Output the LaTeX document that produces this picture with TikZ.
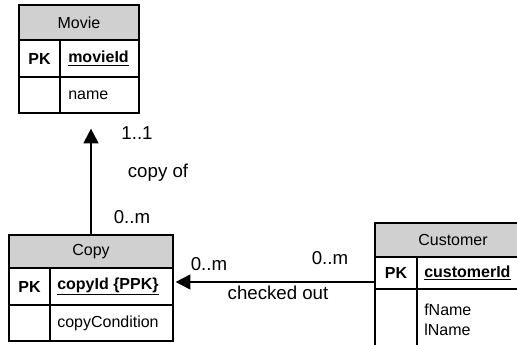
\documentclass[tikz,border=0pt]{standalone}
\usepackage{fontspec}
\setmainfont{Liberation Sans}
\usepackage{tikz}
\usetikzlibrary{arrows.meta, fit}
\definecolor{hdrgray}{HTML}{D0D0D0}
\tikzstyle{entbox} = [draw, line width=0.9pt, inner sep=0pt]
\tikzstyle{enthead} = [draw, line width=0.9pt, inner sep=0pt, fill=hdrgray]
\tikzstyle{headtext} = [font=\fontsize{12}{14}\selectfont, inner sep=0pt]
\tikzstyle{pk} = [font=\fontsize{12}{14}\selectfont\bfseries, inner sep=0pt]
\tikzstyle{keyattr} = [anchor=west, font=\fontsize{12}{14}\selectfont\bfseries, inner sep=0pt]
\tikzstyle{attr} = [anchor=west, align=left, font=\fontsize{12}{15}\selectfont, inner sep=0pt]
\tikzstyle{sep} = [draw, line width=0.9pt]
\tikzstyle{rel} = [draw, line width=1.5pt, -{Triangle[length=11pt, width=11pt]}]
\tikzstyle{mult} = [font=\fontsize{14}{16}\selectfont, inner sep=0pt]

\begin{document}
\begin{tikzpicture}[x=0.75pt, y=-0.75pt]
\clip (0,0) rectangle (517,345);
\fill[white] (0,0) rectangle (517,345);

%% movie
\node[entbox, fit={(19,5) (139,113)}] (movie) {};
\node[enthead, fit={(19,5) (139,40)}] (moviehead) {};
\node[headtext] at (moviehead.center) (movietitle) {Movie};
\draw[sep] (19,77) -- (139,77);
\draw[sep] (60,40) -- (60,113);
\node[pk] at (39.5,58.5) (moviepk) {PK};
\node[keyattr] at (68,58.5) (movieid) {\underline{movieId}};
\node[attr] at (68,95) (moviename) {name};

%% copy
\node[entbox, fit={(9,235) (173,341)}] (copy) {};
\node[enthead, fit={(9,235) (173,268)}] (copyhead) {};
\node[headtext] at (copyhead.center) (copytitle) {Copy};
\draw[sep] (9,305) -- (173,305);
\draw[sep] (50,268) -- (50,341);
\node[pk] at (29.5,286.5) (copypk) {PK};
\node[keyattr] at (57,286.5) (copyid) {\underline{copyId \{PPK\}}};
\node[attr] at (57,323) (copycond) {copyCondition};

%% customer
\node[entbox, fit={(375,223) (531,370)}] (cust) {};
\node[enthead, fit={(375,223) (531,257)}] (custhead) {};
\node[headtext] at (custhead.center) (custtitle) {Customer};
\draw[sep] (375,289) -- (531,289);
\draw[sep] (417,257) -- (417,370);
\node[pk] at (396,273) (custpk) {PK};
\node[keyattr] at (424,273) (custid) {\underline{customerId}};
\node[attr] at (424,320) (custname) {fName\\lName};

%% copy of
\path[rel, shorten >=11.25pt] (copy.north) to (copy.north |- movie.south);
\node[mult] at (137,133) (movieone) {1..1};
\node[mult] at (158,173) (copyof) {copy of};
\node[mult] at (132,217) (copymany) {0..m};

%% checked out
\coordinate (chk) at (300,282);
\path[rel, shorten >=1.5pt] (cust.west |- chk) to (copy.east |- chk);
\node[mult] at (209,264) (copyco) {0..m};
\node[mult] at (330,258) (custco) {0..m};
\node[mult] at (278,293) (checked) {checked out};
\end{tikzpicture}
\end{document}
